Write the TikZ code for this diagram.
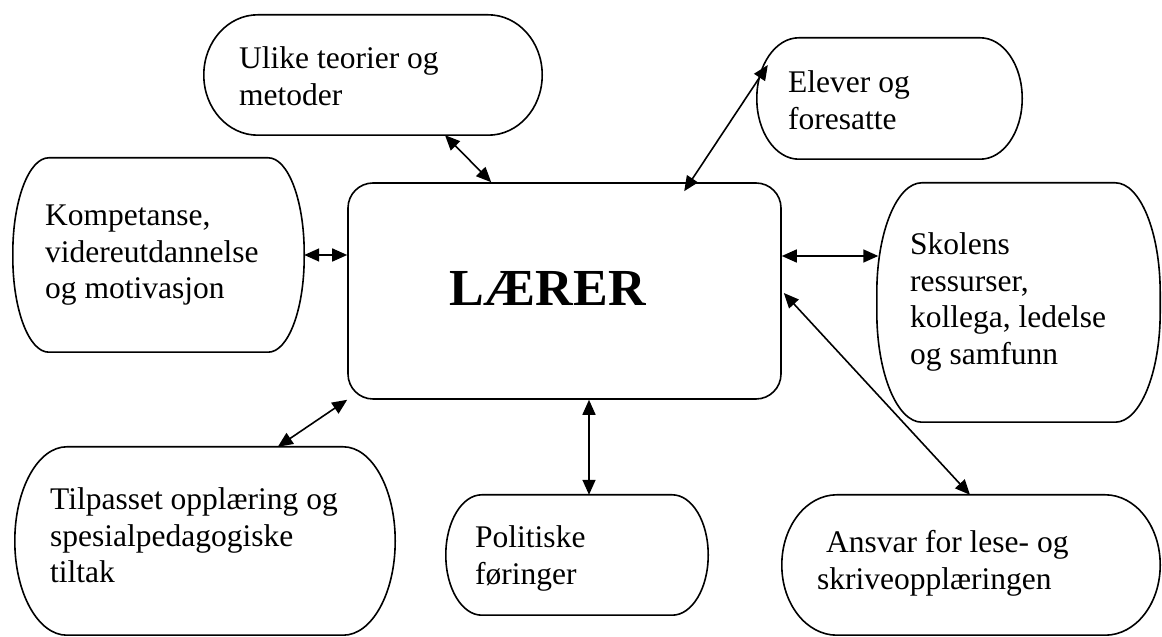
\documentclass[tikz,border=0pt]{standalone}
\usepackage{fontspec}
\setmainfont{Liberation Serif}
\usetikzlibrary{calc,arrows.meta}
\tikzset{
  box/.style={rectangle, draw=none, inner sep=0pt},
  lbl/.style={anchor=base west, inner sep=0pt, align=left, font=\fontsize{31.5}{36.5}\selectfont},
  link/.style={line width=1.6pt, {Triangle[length=15pt,width=13pt]}-{Triangle[length=15pt,width=13pt]}},
  outline/.style={line width=1.6pt}
}
\newcommand\boxoutline[3]{%
  \draw[outline] ($(#1.north west)+(#2,0)$) -- ($(#1.north east)+(-#2,0)$)
    arc[start angle=90,end angle=0,x radius=#2pt,y radius=#3pt]
    -- ($(#1.south east)+(0,#3)$)
    arc[start angle=0,end angle=-90,x radius=#2pt,y radius=#3pt]
    -- ($(#1.south west)+(#2,0)$)
    arc[start angle=270,end angle=180,x radius=#2pt,y radius=#3pt]
    -- ($(#1.north west)+(0,-#3)$)
    arc[start angle=180,end angle=90,x radius=#2pt,y radius=#3pt]
    -- cycle;}
\begin{document}
\begin{tikzpicture}[x=1pt,y=1pt]
\useasboundingbox (0,0) rectangle (1162,637);
% boxes
\node[box, minimum width=338pt, minimum height=120pt] (ulike) at (373,562) {};
\node[box, minimum width=265pt, minimum height=121pt] (elever) at (889.5,538.5) {};
\node[box, minimum width=291pt, minimum height=194pt] (komp) at (158.5,382) {};
\node[box, minimum width=433pt, minimum height=216pt, draw, outline, rounded corners=25pt] (center) at (564.5,346) {};
\node[box, minimum width=283pt, minimum height=239pt] (skolens) at (1018.5,334.5) {};
\node[box, minimum width=380pt, minimum height=188pt] (tilp) at (205,96) {};
\node[box, minimum width=262pt, minimum height=120pt] (polit) at (577,82) {};
\node[box, minimum width=378pt, minimum height=140pt] (ansvar) at (971,72) {};
\boxoutline{ulike}{54}{60}
\boxoutline{elever}{42}{60.5}
\boxoutline{komp}{36}{95}
\boxoutline{skolens}{45}{110}
\boxoutline{tilp}{52}{94}
\boxoutline{polit}{36}{60}
\boxoutline{ansvar}{55}{70}
% texts (anchored at the baseline of the last line)
\node[lbl] (tulike) at (239,531.5) {Ulike teorier og\\metoder};
\node[lbl] (telever) at (788,507.5) {Elever og\\foresatte};
\node[lbl] (tkomp) at (45,338) {Kompetanse,\\videreutdannelse\\og motivasjon};
\node[lbl] (tskolens) at (910,272.5) {Skolens\\ressurser,\\kollega, ledelse\\og samfunn};
\node[lbl] (ttilp) at (50,54) {Tilpasset oppl\ae ring og\\spesialpedagogiske\\tiltak};
\node[lbl] (tpolit) at (475,52.5) {Politiske\\f\o ringer};
\node[lbl] (tansvar) at (817,47.5) {\hspace*{9pt}Ansvar for lese- og\\skriveoppl\ae ringen};
\node[anchor=base, inner sep=0pt, font=\fontsize{52}{60}\selectfont\bfseries] (tcenter) at (547.5,331) {L\AE RER};
% connectors
\draw[link] ($(ulike.south)+(72,0)$) -- ($(center.north west)+(144,0)$);
\draw[link] ($(elever.west)+(11,33.5)$) -- ($(center.north west)+(337,-9)$);
\draw[link] (komp.east) -- (center.west |- komp.east);
\draw[link] ($(center.east)+(0,35)$) -- ($(skolens.west)+(1.5,46.5)$);
\draw[link] ($(center.east)+(2,-2)$) -- ($(ansvar.north)+(-1,0)$);
\draw[link] ($(center.south)+(24.5,0)$) -- ($(polit.north)+(12,0)$);
\draw[link] (center.south west) -- ($(tilp.north west)+(263,0)$);
\end{tikzpicture}
\end{document}
